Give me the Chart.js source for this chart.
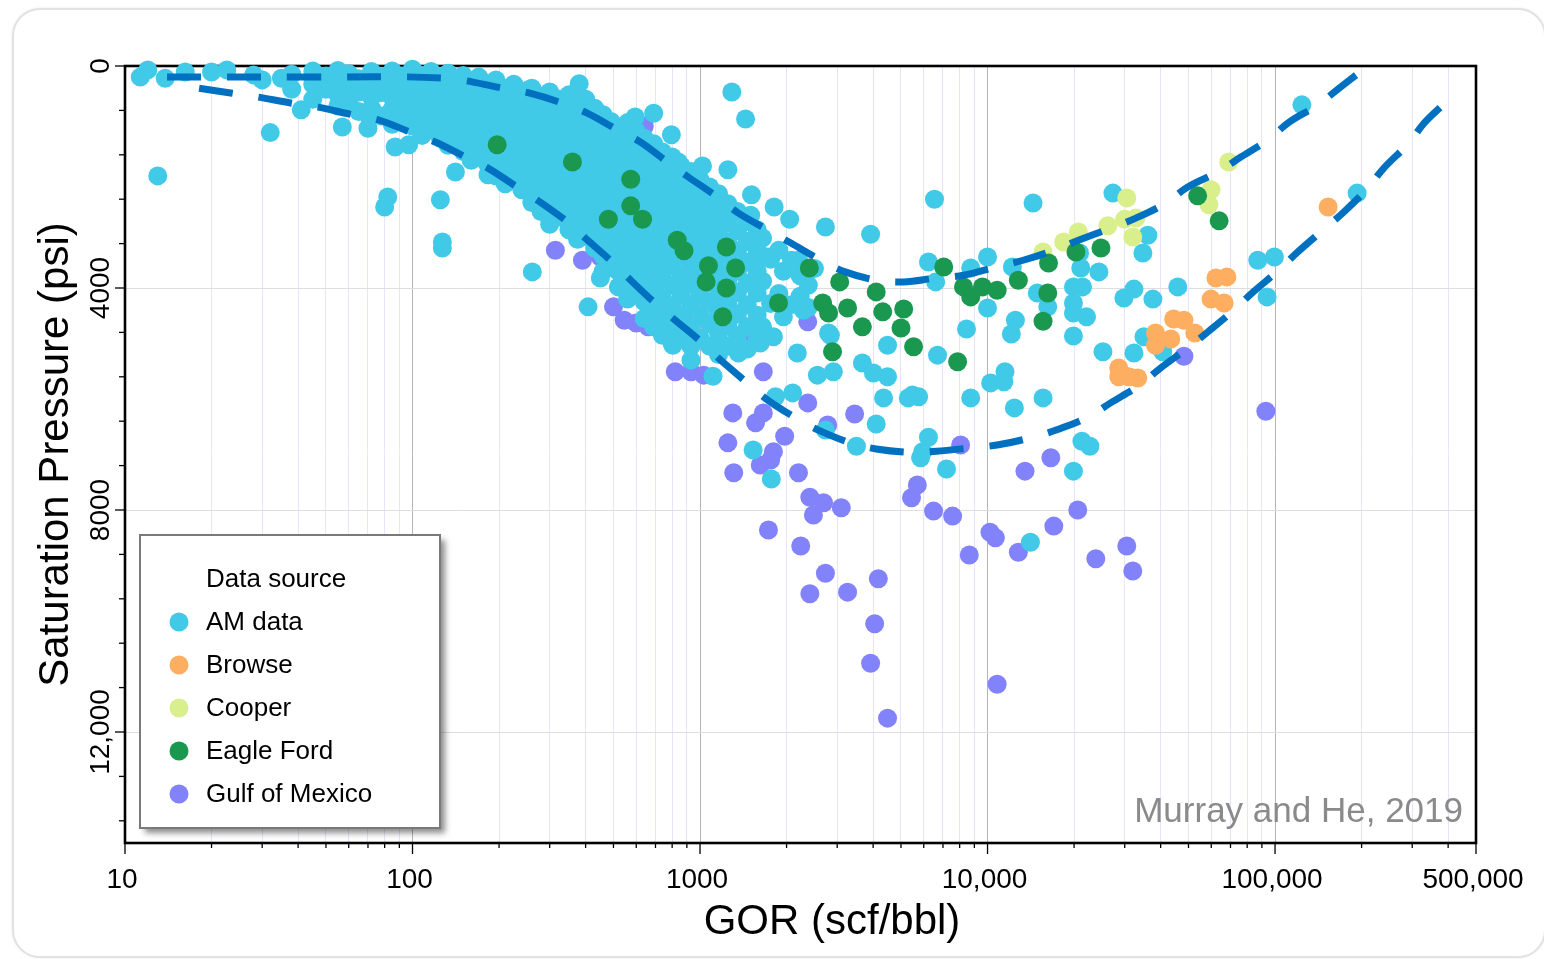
<!DOCTYPE html>
<html>
<head>
<meta charset="utf-8">
<title>Saturation pressure vs GOR</title>
<script src="https://cdn.jsdelivr.net/npm/chart.js@4.4.1/dist/chart.umd.min.js"></script>
<style>
  html, body { margin: 0; padding: 0; background: #ffffff; width: 1544px; height: 959px; overflow: hidden; }
  .card { position: absolute; left: 12px; top: 8px; width: 1534px; height: 950px; border: 2px solid #e2e2e2; border-radius: 28px; box-sizing: border-box; background: #fff; box-shadow: 0 0 3px rgba(0,0,0,0.08); }
  canvas { position: absolute; left: 0; top: 0; }
</style>
</head>
<body>
<div class="card"></div>
<canvas id="chart" width="1544" height="959"></canvas>
<script>
// ---- Axis ticks and labels ----
const xTickValues = [10, 20, 30, 40, 50, 60, 70, 80, 90,
  100, 200, 300, 400, 500, 600, 700, 800, 900,
  1000, 2000, 3000, 4000, 5000, 6000, 7000, 8000, 9000,
  10000, 20000, 30000, 40000, 50000, 60000, 70000, 80000, 90000,
  100000, 200000, 300000, 400000, 500000];
const xLabelValues = [10, 100, 1000, 10000, 100000, 500000];
const xLabelText = ['10', '100', '1000', '10,000', '100,000', '500,000'];
const yTickValues = [0, 800, 1600, 2400, 3200, 4000, 4800, 5600, 6400, 7200, 8000,
  8800, 9600, 10400, 11200, 12000, 12800, 13600];
const yLabelValues = [0, 4000, 8000, 12000];
const yLabelText = ['0', '4000', '8000', '12,000'];

// ---- Data: [GOR (scf/bbl), saturation pressure (psi)] ----
// AM data, main band of black-oil / volatile-oil samples, listed by GOR column
const amCoreColumns = [
  [38, [150, 420]],
  [45, [90, 330, 600]],
  [50, [180, 420]],
  [55, [80, 300, 520, 720]],
  [60, [140, 380, 640]],
  [65, [230, 470, 820]],
  [72, [100, 330, 560, 760]],
  [78, [200, 480, 900]],
  [85, [90, 300, 560, 780, 1050]],
  [92, [180, 420, 680, 950]],
  [100, [60, 290, 520, 800, 1080]],
  [108, [170, 430, 690, 960, 1250]],
  [116, [100, 340, 600, 850, 1120]],
  [125, [220, 480, 760, 1020, 1300]],
  [133, [130, 380, 640, 900, 1180, 1430]],
  [142, [260, 520, 790, 1060, 1330]],
  [150, [170, 420, 680, 960, 1240, 1540]],
  [160, [300, 560, 830, 1110, 1400, 1700]],
  [170, [200, 460, 720, 990, 1280, 1580]],
  [182, [330, 600, 880, 1160, 1450, 1760]],
  [195, [250, 520, 790, 1070, 1360, 1660, 1980]],
  [210, [400, 680, 950, 1230, 1520, 1830, 2120]],
  [225, [330, 600, 870, 1150, 1440, 1740, 2050]],
  [240, [470, 750, 1030, 1310, 1610, 1910, 2230]],
  [260, [400, 680, 950, 1240, 1530, 1840, 2150, 2460]],
  [280, [540, 820, 1100, 1390, 1690, 2000, 2310, 2620]],
  [300, [470, 740, 1020, 1310, 1610, 1920, 2240, 2560, 2850]],
  [325, [600, 880, 1170, 1460, 1770, 2080, 2400, 2720]],
  [350, [520, 800, 1080, 1370, 1670, 1980, 2300, 2620, 2950]],
  [375, [680, 960, 1250, 1550, 1860, 2170, 2490, 2820, 3120]],
  [400, [600, 880, 1170, 1470, 1780, 2090, 2410, 2740, 3070]],
  [430, [760, 1040, 1340, 1650, 1960, 2280, 2610, 2940, 3280]],
  [460, [880, 1180, 1480, 1790, 2100, 2420, 2750, 3080, 3420, 3700]],
  [490, [1000, 1300, 1610, 1920, 2240, 2560, 2890, 3230, 3560]],
  [520, [1100, 1400, 1710, 2030, 2350, 2680, 3010, 3350, 3700, 3980]],
  [560, [1020, 1250, 1550, 1860, 2180, 2500, 2830, 3160, 3500, 3850, 4200]],
  [600, [1180, 1450, 1750, 2060, 2380, 2700, 3030, 3370, 3720, 4080]],
  [640, [1300, 1600, 1900, 2220, 2540, 2870, 3200, 3540, 3890, 4250, 4550]],
  [690, [1400, 1700, 2010, 2330, 2650, 2980, 3310, 3650, 4000, 4380, 4700]],
  [740, [1550, 1850, 2160, 2480, 2800, 3130, 3470, 3820, 4180, 4550, 4850]],
  [800, [1640, 1950, 2270, 2590, 2920, 3260, 3600, 3950, 4320, 4700, 5000]],
  [860, [1800, 2100, 2420, 2750, 3080, 3420, 3770, 4130, 4500, 4880]],
  [930, [1900, 2220, 2550, 2880, 3220, 3570, 3930, 4300, 4680, 5050]],
  [1000, [2050, 2370, 2700, 3040, 3390, 3750, 4120, 4500, 4900]],
  [1080, [2180, 2500, 2830, 3170, 3520, 3880, 4260, 4650, 5050]],
  [1160, [2300, 2640, 2980, 3330, 3690, 4060, 4440, 4830, 5200]],
  [1250, [2480, 2820, 3170, 3530, 3900, 4280, 4670, 5050]],
  [1350, [2620, 2970, 3330, 3700, 4080, 4470, 4860]],
  [1460, [2800, 3160, 3530, 3910, 4300, 4700, 5100]],
  [1580, [2950, 3320, 3700, 4090, 4490, 4900]],
  [1650, [3100, 3880, 4700]],
  [1760, [3480, 4280]],
  [1880, [3320, 4100]],
  [1950, [3700, 4520]],
  [2080, [3500, 4300]],
  [2230, [3780, 4150]],
  [2380, [3950, 4350]]
];
// AM data, individual samples outside the main band
const amScattered = [
  [11.3, 200], [12, 70], [13.8, 220], [16.2, 110], [20, 110], [22.6, 70], [28, 160], [30, 250], [35, 220],
  [13, 1980], [32, 1200], [41, 790], [57, 1100], [70, 880], [70, 1120], [87, 1460], [97, 1420], [82, 2360], [80, 2540],
  [125, 2410], [127, 3170], [127, 3280], [141, 1910], [183, 1960], [261, 3710], [408, 4340], [380, 320], [253, 430],
  [690, 850], [595, 920], [795, 1240], [840, 1730], [1020, 1800], [1250, 1870], [1290, 470], [1440, 955],
  [1510, 2320], [1500, 2690], [1810, 2540], [2050, 2760], [2730, 2900], [3920, 3030], [6540, 2400], [6230, 3530],
  [6600, 3890], [1720, 3440], [1620, 3440], [2150, 3620], [2200, 3500], [2500, 3650], [450, 3820],
  [14400, 2470], [27300, 2290], [36100, 3050], [34700, 3370], [124000, 700], [193000, 2290], [87100, 3500],
  [99500, 3440], [93800, 4160], [10000, 3440], [8740, 3640], [12200, 3620], [14900, 4090], [16200, 4340],
  [10000, 4360], [8450, 4740], [12500, 4580], [12100, 4830], [19900, 3980], [21400, 3980], [19900, 4270],
  [19900, 4450], [22100, 4520], [19900, 4865], [24400, 3710], [20900, 3370], [21100, 3640], [29800, 4180],
  [32300, 4020], [37600, 4200], [45900, 3980], [35000, 4880], [25200, 5150], [32300, 5170], [40700, 5150],
  [11500, 5510], [10250, 5710], [8740, 5980], [12400, 6160], [15600, 5980], [21300, 6760], [22700, 6850],
  [19900, 7300], [14100, 8580], [11400, 5690],
  [1830, 5960], [2100, 5890], [1530, 6920], [1770, 7440], [2730, 6560], [3500, 6850], [4100, 6450],
  [4350, 5980], [5300, 5980], [5760, 5960], [6230, 6690], [5950, 6950], [5850, 7060], [7200, 7260],
  [2180, 5170], [2840, 4850], [2560, 5570], [2910, 5510], [3670, 5350], [4010, 5530], [4490, 5600],
  [5480, 5930], [6700, 5210], [4490, 5030], [2290, 4400], [2800, 4810], [1800, 4880], [1620, 4990],
  [1360, 5170], [1110, 5590], [930, 5300], [805, 5030]
];
const browseData = [
  [153000, 2540], [62300, 3820], [68000, 3800], [59900, 4200], [66500, 4270], [44400, 4560], [48200, 4580],
  [52600, 4810], [38400, 4810], [43400, 4920], [38400, 5030], [28600, 5440], [28600, 5600], [33300, 5620], [31000, 5600]
];
const cooperData = [
  [15600, 3350], [18400, 3170], [20700, 2990], [26200, 2880], [30500, 2380], [30000, 2760],
  [32000, 3080], [32800, 2740], [69000, 1730], [59900, 2230], [58900, 2500]
];
const eagleFordData = [
  [197, 1420], [360, 1730], [574, 2040], [574, 2520], [631, 2760], [480, 2760], [833, 3140], [880, 3330],
  [1235, 3260], [1070, 3600], [1330, 3640], [1050, 3890], [1235, 4000], [1200, 4520], [1875, 4270],
  [2400, 3640], [3060, 3890], [2670, 4270], [2800, 4450], [3260, 4360], [4100, 4070], [4320, 4430],
  [5110, 4380], [3670, 4700], [5000, 4720], [5530, 5060], [2890, 5150], [7040, 3620], [7870, 5330],
  [8250, 3980], [8740, 4160], [9600, 3980], [10800, 4040], [12800, 3860], [16300, 3550], [16200, 4090],
  [15600, 4600], [20300, 3350], [24800, 3280], [53800, 2340], [63900, 2790]
];
const gulfData = [
  [314, 3320], [390, 3500], [450, 3440], [540, 3710], [500, 4340], [545, 4580], [600, 4630], [660, 4700],
  [820, 5510], [930, 5510], [1030, 5570], [1660, 5510],
  [1300, 6250], [1560, 6430], [1660, 6250], [1250, 6790], [1310, 7330], [1620, 7190], [1800, 6950],
  [1760, 7100], [1970, 6670], [2200, 7330], [2370, 6070], [3450, 6270], [2780, 6470],
  [2410, 7770], [2690, 7870], [2480, 8090], [3100, 7960], [1730, 8360], [2240, 8650], [2730, 9140],
  [2410, 9510], [3260, 9480], [4170, 9240], [4050, 10050], [3920, 10760], [4490, 11750],
  [5700, 7550], [5440, 7780], [6490, 8020], [7560, 8110], [8060, 6830], [8640, 8810], [10200, 8400],
  [10650, 8500], [10800, 11140], [12800, 8760], [13500, 7300], [16600, 7060], [17000, 8290], [20600, 8000],
  [23800, 8880], [30500, 8650], [32000, 9100], [48200, 5230], [92900, 6220], [2370, 4610],
  [255, 2270], [320, 2360], [55, 160], [640, 1080], [1100, 2540], [470, 3150], [700, 3500], [900, 3850],
  [620, 3980], [760, 4400], [950, 4550], [1150, 4200], [1400, 4900], [1250, 4500]
];

// Envelope curves (dashed)
const innerEnvelope = [
  [14, 200], [40.6, 200], [130, 220], [207, 400], [256, 490], [332, 670], [405, 850], [516, 1150],
  [620, 1370], [770, 1730], [910, 2000], [1150, 2360], [1360, 2650], [1730, 2960], [2070, 3190],
  [2630, 3500], [3200, 3710], [4100, 3860], [5100, 3890], [6600, 3820], [8250, 3770], [10700, 3620],
  [13300, 3500], [17000, 3320], [20700, 3140], [26800, 2920], [32800, 2740], [41700, 2470], [49700, 2180],
  [63300, 1910], [76000, 1640], [94500, 1330], [112000, 1010], [141000, 700], [167000, 400], [202000, 70]
];
const outerEnvelope = [
  [18.1, 400], [23.6, 490], [29, 560], [38, 670], [47, 740], [62, 880], [76, 970], [98, 1190],
  [120, 1370], [153, 1640], [183, 1840], [231, 2180], [274, 2430], [346, 2810], [399, 3100], [495, 3530],
  [574, 3860], [710, 4310], [820, 4580], [1020, 4990], [1180, 5300], [1460, 5710], [1720, 6020],
  [2150, 6340], [2580, 6560], [3340, 6790], [4100, 6900], [5400, 6960], [6650, 6940], [8740, 6880],
  [10800, 6830], [14100, 6700], [17300, 6560], [22300, 6330], [26800, 6070], [33800, 5750], [40000, 5440],
  [49700, 5080], [58400, 4790], [71900, 4400], [84000, 4070], [103000, 3680], [120000, 3350],
  [148000, 2940], [173500, 2630], [210000, 2200], [239000, 1840], [292000, 1390], [330000, 1030], [393000, 650]
];

const toXY = pairs => pairs.map(([x, y]) => ({ x, y }));
const amData = amCoreColumns.flatMap(([gor, list]) => list.map(p => [gor, p])).concat(amScattered);

const FONT = '"Liberation Sans", Arial, Helvetica, sans-serif';
const DOT = 9.5;

function pointSet(label, pairs, color, order) {
  return {
    label, data: toXY(pairs), order,
    backgroundColor: color, borderColor: color, borderWidth: 0,
    pointRadius: DOT, pointHoverRadius: DOT, showLine: false, clip: false,
    isSource: true
  };
}
function curveSet(label, pairs) {
  return {
    label, data: toXY(pairs), order: 0,
    showLine: true, pointRadius: 0, pointHoverRadius: 0,
    borderColor: '#0070c0', backgroundColor: '#0070c0', borderWidth: 7,
    borderDash: [34, 26], borderCapStyle: 'butt', tension: 0.35, fill: false, clip: false
  };
}

// Frame, tick marks, tick labels and axis titles
const axesDecor = {
  id: 'axesDecor',
  beforeDatasetsDraw(chart) {
    const { ctx, chartArea: a, scales: { x, y } } = chart;
    ctx.save();
    ctx.strokeStyle = '#000';
    ctx.lineWidth = 1.3;
    x.ticks.forEach(t => {
      const px = x.getPixelForValue(t.value);
      const len = xLabelValues.includes(t.value) ? 11 : 5;
      ctx.beginPath(); ctx.moveTo(px, a.bottom); ctx.lineTo(px, a.bottom + len); ctx.stroke();
    });
    y.ticks.forEach(t => {
      const py = y.getPixelForValue(t.value);
      const len = yLabelValues.includes(t.value) ? 10 : 6;
      ctx.beginPath(); ctx.moveTo(a.left, py); ctx.lineTo(a.left - len, py); ctx.stroke();
    });
    ctx.lineWidth = 2.6;
    ctx.strokeRect(a.left, a.top, a.right - a.left, a.bottom - a.top);

    ctx.fillStyle = '#000';
    ctx.font = '28px ' + FONT;
    ctx.textAlign = 'center';
    ctx.textBaseline = 'middle';
    xLabelValues.forEach((v, i) => {
      ctx.fillText(xLabelText[i], x.getPixelForValue(v) - 3, a.bottom + 37);
    });
    yLabelValues.forEach((v, i) => {
      ctx.save();
      ctx.translate(a.left - 24, y.getPixelForValue(v));
      ctx.rotate(-Math.PI / 2);
      ctx.fillText(yLabelText[i], 0, 0);
      ctx.restore();
    });

    ctx.font = '42px ' + FONT;
    ctx.fillText('GOR (scf/bbl)', 832, a.bottom + 79);
    ctx.save();
    ctx.translate(56, (a.top + a.bottom) / 2);
    ctx.rotate(-Math.PI / 2);
    ctx.fillText('Saturation Pressure (psi)', 0, 0);
    ctx.restore();
    ctx.restore();
  },
  afterDatasetsDraw(chart) {
    const { ctx, chartArea: a } = chart;
    ctx.save();
    // source note
    ctx.font = '35px ' + FONT;
    ctx.fillStyle = '#8a8a8a';
    ctx.textAlign = 'right';
    ctx.textBaseline = 'middle';
    ctx.fillText('Murray and He, 2019', a.right - 13, a.bottom - 31);

    // legend box with drop shadow
    const bx = a.left + 15, by = a.bottom - 308, bw = 300, bh = 293;
    ctx.save();
    ctx.shadowColor = 'rgba(0,0,0,0.45)';
    ctx.shadowBlur = 6;
    ctx.shadowOffsetX = 5;
    ctx.shadowOffsetY = 5;
    ctx.fillStyle = '#fff';
    ctx.fillRect(bx, by, bw, bh);
    ctx.restore();
    ctx.strokeStyle = '#7a7a7a';
    ctx.lineWidth = 2;
    ctx.strokeRect(bx, by, bw, bh);

    ctx.fillStyle = '#000';
    ctx.textAlign = 'left';
    ctx.font = '26px ' + FONT;
    ctx.fillText('Data source', bx + 66, by + 45);
    const sets = chart.data.datasets.filter(d => d.isSource);
    sets.forEach((d, i) => {
      const cy = by + 87 + i * 43;
      ctx.beginPath();
      ctx.arc(bx + 39, cy, DOT, 0, Math.PI * 2);
      ctx.fillStyle = d.backgroundColor;
      ctx.fill();
      ctx.fillStyle = '#000';
      ctx.fillText(d.label, bx + 66, cy + 1);
    });
    ctx.restore();
  }
};

new Chart(document.getElementById('chart'), {
  type: 'scatter',
  data: {
    datasets: [
      pointSet('AM data', amData, '#41c9e8', 4),
      pointSet('Browse', browseData, '#fdae61', 3),
      pointSet('Cooper', cooperData, '#d9ef8b', 2),
      pointSet('Eagle Ford', eagleFordData, '#1a9850', 1),
      pointSet('Gulf of Mexico', gulfData, '#8282fb', 5),
      curveSet('Inner envelope', innerEnvelope),
      curveSet('Outer envelope', outerEnvelope)
    ]
  },
  options: {
    responsive: false,
    devicePixelRatio: 1,
    animation: false,
    events: [],
    layout: { padding: { left: 25, right: 68, top: 66, bottom: 16 } },
    plugins: { legend: { display: false }, tooltip: { enabled: false }, title: { display: false } },
    scales: {
      x: {
        type: 'logarithmic',
        position: 'bottom',
        min: 10,
        max: 500000,
        afterBuildTicks: s => { s.ticks = xTickValues.map(v => ({ value: v })); },
        afterFit: s => { s.height = 100; },
        ticks: { display: false },
        border: { display: false },
        grid: {
          drawTicks: false,
          lineWidth: 1,
          color: c => {
            const v = c.tick ? c.tick.value : 0;
            if (v <= 10 || v >= 500000) return 'rgba(0,0,0,0)';
            return xLabelValues.includes(v) ? '#b5b5b5' : '#e7e5fb';
          }
        }
      },
      y: {
        type: 'linear',
        reverse: true,
        min: 0,
        max: 14000,
        afterBuildTicks: s => { s.ticks = yTickValues.map(v => ({ value: v })); },
        afterFit: s => { s.width = 100; },
        ticks: { display: false },
        border: { display: false },
        grid: {
          drawTicks: false,
          lineWidth: 1,
          color: c => {
            const v = c.tick ? c.tick.value : 0;
            return (v > 0 && yLabelValues.includes(v)) ? '#dedede' : 'rgba(0,0,0,0)';
          }
        }
      }
    }
  },
  plugins: [axesDecor]
});
</script>
</body>
</html>
